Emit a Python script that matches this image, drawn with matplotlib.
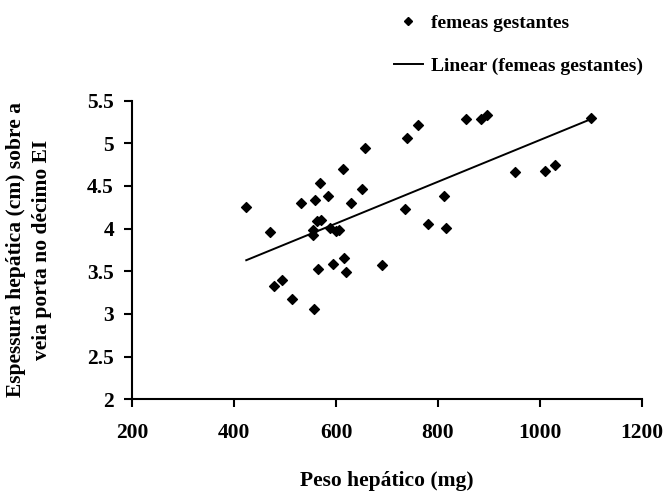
import numpy as np
import matplotlib
matplotlib.use("Agg")
import matplotlib.pyplot as plt
from matplotlib.lines import Line2D

# peso hepático (mg) x espessura hepática (cm)
peso = [424, 470, 531, 559, 569, 585, 614, 656, 630, 651,
        563, 570, 554, 554, 589, 600, 606, 615, 594, 565,
        619, 691, 495, 478, 514, 556, 740, 760, 855, 885,
        896, 1100, 950, 1010, 1030, 811, 735, 781, 815]
espessura = [4.25, 3.96, 4.30, 4.34, 4.54, 4.38, 4.70, 4.95, 4.30, 4.46,
             4.09, 4.10, 3.98, 3.92, 4.01, 3.97, 3.98, 3.66, 3.58, 3.53,
             3.49, 3.57, 3.40, 3.33, 3.18, 3.06, 5.06, 5.21, 5.29, 5.29,
             5.33, 5.30, 4.66, 4.68, 4.75, 4.38, 4.23, 4.05, 4.01]
x_ticks = [200, 400, 600, 800, 1000, 1200]
y_ticks = [2, 2.5, 3, 3.5, 4, 4.5, 5, 5.5]

plt.rcParams['font.family'] = ['Liberation Serif', 'DejaVu Serif']
plt.rcParams['font.weight'] = 'bold'

fig = plt.figure(figsize=(6.65, 4.94), dpi=100)
ax = fig.add_axes([0.1985, 0.1917, 0.767, 0.6045])

ax.scatter(peso, espessura, marker='D', s=25, color='black', zorder=3)

# linha de tendência (Excel: Linear)
a, b = np.polyfit(peso, espessura, 1)
xs = np.array([min(peso), max(peso)])
ax.plot(xs, a * xs + b, color='black', lw=1.4)

ax.set_xlim(200, 1200)
ax.set_ylim(2, 5.5)
ax.set_xticks(x_ticks)
ax.set_yticks(y_ticks)
ax.set_xticklabels([str(t) for t in x_ticks])
ax.set_yticklabels([f'{t:g}' for t in y_ticks])
ax.tick_params(direction='out', length=6, width=1.5, labelsize=15.5)
ax.tick_params(axis='x', pad=11)
ax.tick_params(axis='y', pad=7)
for side in ['top', 'right']:
    ax.spines[side].set_visible(False)
for side in ['left', 'bottom']:
    ax.spines[side].set_linewidth(1.5)

ax.set_xlabel('Peso hepático (mg)', fontsize=15.5, fontweight='bold', labelpad=20)
ax.set_ylabel('Espessura hepática (cm) sobre a\nveia porta no décimo EI',
              fontsize=15.5, fontweight='bold', labelpad=25, linespacing=1.45)

handles = [
    Line2D([], [], marker='D', ls='none', color='black', markersize=4),
    Line2D([], [], color='black', lw=1.4),
]
fig.legend(handles, ['femeas gestantes', 'Linear (femeas gestantes)'],
           loc='upper left', bbox_to_anchor=(0.566, 1.007), frameon=False,
           fontsize=14, handlelength=1.5, handletextpad=0.4, labelspacing=1.3)

fig.savefig('out.png', dpi=100)
